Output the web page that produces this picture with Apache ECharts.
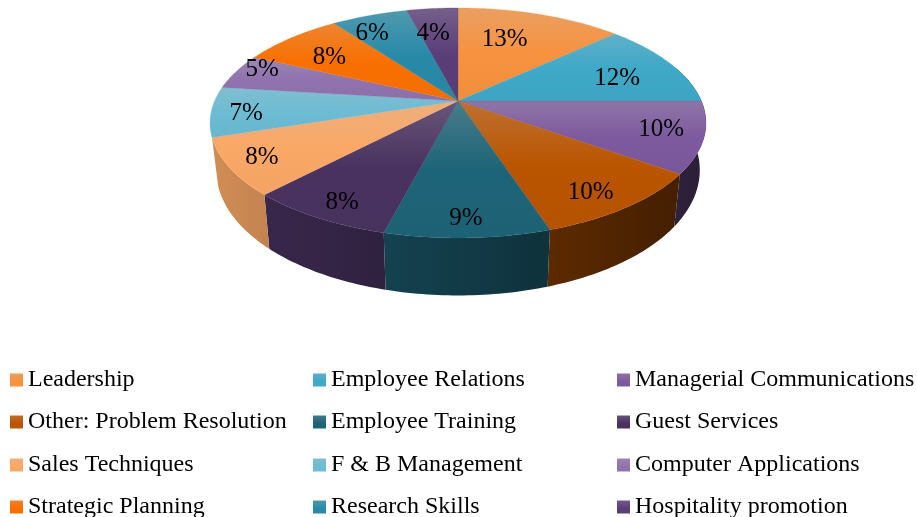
<!DOCTYPE html>
<html><head><meta charset="utf-8">
<style>html,body{margin:0;padding:0;background:#fff;overflow:hidden}#c{width:917px;height:517px}</style>
<script src="https://cdn.jsdelivr.net/npm/echarts@6/dist/echarts.min.js"></script>
</head><body><div id="c"></div>
<script>
const categories = ['Leadership','Employee Relations','Managerial Communications','Other: Problem Resolution','Employee Training','Guest Services','Sales Techniques','F & B Management','Computer Applications','Strategic Planning','Research Skills','Hospitality promotion'];
const values = [13,12,10,10,9,8,8,7,5,8,6,4];
const colors = ['#F7923F','#3FA9C8','#7D5A9E','#BA5500','#1E6478','#493260','#FAA866','#6CBCD4','#9073AE','#F97000','#288AA8','#5A3E78'];
// label placement: radius on the disc and angular nudge from the slice middle
const labelRadius = [.68,.72,.83,.845,.87,.865,.864,.86,.915,.728,.823,.728];
const labelNudge = [-4.9,3,-2,2,0,-.8,.8,-.6,4.7,-1.6,-4,-2];

const CX=458, CY=101, A=243.4, B=110.8, K=0.191, SX=0.975;
const total = values.reduce((a,b)=>a+b,0);
const starts = []; values.reduce((acc,v,i)=>{starts[i]=acc;return acc+v;},0);

function hex(c){return [1,3,5].map(i=>parseInt(c.substr(i,2),16));}
function mix(c,d,t){const a=hex(c),b=hex(d);return 'rgb('+a.map((x,i)=>Math.round(x+(b[i]-x)*t)).join(',')+')';}
function mul(c,f){return 'rgb('+hex(c).map(x=>Math.round(x*f)).join(',')+')';}
function proj(deg,r){const t=deg*Math.PI/180,u=r*Math.sin(t),v=-r*Math.cos(t),d=1-K*v;return {x:CX+A*u/d,y:CY+B*v/d,v:v};}
function rimBottom(deg){const p=proj(deg,1);return {x:CX+(p.x-CX)*SX,y:p.y+44.7+12.8*p.v};}
function grad(c){return new echarts.graphic.LinearGradient(0,0,0,1,[{offset:0,color:mix(c,'#c4c4c4',.25)},{offset:.5,color:c},{offset:1,color:mul(c,.97)}]);}
function shade(x){const t=Math.max(0,Math.min(1,(x-210)/496));return .84-.5*t;}

function slice(i){return function(params,api){
  const a0=starts[i]/total*360,a1=(starts[i]+values[i])/total*360;
  const top=[[CX,CY]];
  for(let a=a0;a<a1;a+=1)top.push((p=>[p.x,p.y])(proj(a,1)));
  top.push((p=>[p.x,p.y])(proj(a1,1)));
  const children=[];
  const s0=Math.max(a0,72),s1=Math.min(a1,252);
  if(s1>s0){
    const up=[],dn=[];
    for(let a=s0;a<s1;a+=1){const p=proj(a,1);up.push([p.x,p.y]);const q=rimBottom(a);dn.unshift([q.x,q.y]);}
    const p=proj(s1,1);up.push([p.x,p.y]);const q=rimBottom(s1);dn.unshift([q.x,q.y]);
    const xs=up.map(d=>d[0]).concat(dn.map(d=>d[0]));
    const xa=Math.min.apply(null,xs),xb=Math.max.apply(null,xs);
    children.push({type:'polygon',z2:1,shape:{points:up.concat(dn)},style:{
      fill:new echarts.graphic.LinearGradient(0,0,1,0,[{offset:0,color:mul(colors[i],shade(xa))},{offset:1,color:mul(colors[i],shade(xb))}])}});
  }
  children.push({type:'polygon',z2:2,shape:{points:top},style:{fill:grad(colors[i]),stroke:colors[i],lineWidth:.3}});
  const lp=proj((a0+a1)/2+labelNudge[i],labelRadius[i]);
  children.push({type:'text',z2:3,style:{text:Math.round(values[i]/total*100)+'%',x:lp.x,y:lp.y+2,align:'center',verticalAlign:'middle',fontSize:25,fontFamily:'Liberation Serif',fill:'#000'}});
  return {type:'group',children:children};
};}

const series=categories.map((name,i)=>({type:'custom',name:name,coordinateSystem:'none',silent:true,animation:false,
  data:[[values[i]]],renderItem:slice(i),itemStyle:{color:colors[i]}}));
const colX=[10,313,617], rowY=[368,410,453,495];
const legends=categories.map((name,i)=>{const c=i%3,r=Math.floor(i/3);return {
  left:colX[c],top:rowY[r],padding:0,itemWidth:13,itemHeight:13,icon:'rect',selectedMode:false,
  textStyle:{fontFamily:'Liberation Serif',fontSize:24,color:'#000'},
  data:[{name:name,itemStyle:{color:new echarts.graphic.LinearGradient(0,0,0,1,[{offset:0,color:mix(colors[i],'#c4c4c4',.22)},{offset:.6,color:colors[i]},{offset:1,color:colors[i]}])}}]};});
const chart=echarts.init(document.getElementById('c'),null,{renderer:'canvas',width:917,height:517});
chart.setOption({animation:false,backgroundColor:'#fff',legend:legends,series:series});
</script></body></html>
